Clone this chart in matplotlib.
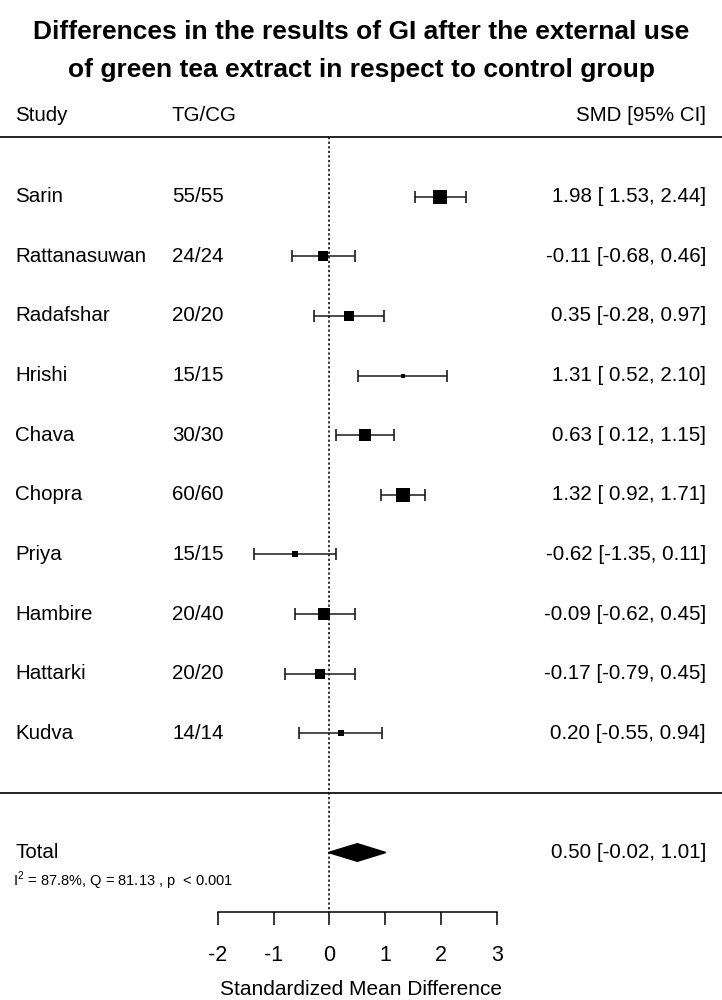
import matplotlib
matplotlib.use("Agg")
import matplotlib.pyplot as plt
import matplotlib.transforms as mtransforms
import numpy as np

plt.rcParams['font.family'] = ['Liberation Sans', 'DejaVu Sans']
plt.rcParams['mathtext.fontset'] = 'custom'
plt.rcParams['mathtext.rm'] = 'Liberation Sans'

# data
studies = ["Sarin", "Rattanasuwan", "Radafshar", "Hrishi", "Chava",
           "Chopra", "Priya", "Hambire", "Hattarki", "Kudva"]
groups = ["55/55", "24/24", "20/20", "15/15", "30/30",
          "60/60", "15/15", "20/40", "20/20", "14/14"]
smd = [1.98, -0.11, 0.35, 1.31, 0.63, 1.32, -0.62, -0.09, -0.17, 0.20]
ci_low = [1.53, -0.68, -0.28, 0.52, 0.12, 0.92, -1.35, -0.62, -0.79, -0.55]
ci_high = [2.44, 0.46, 0.97, 2.10, 1.15, 1.71, 0.11, 0.45, 0.45, 0.94]
weights = [14.0, 10.9, 9.9, 4.2, 12.5, 14.2, 6.2, 12.5, 9.4, 6.2]  # approx %

total_smd = 0.50
total_low = -0.02
total_high = 1.01
het_text = r"I$^{2}$ = 87.8%, Q = 81.13 , p  < 0.001"

xticks = [-2, -1, 0, 1, 2, 3]

fig = plt.figure(figsize=(7.22, 10), dpi=100)
ax = fig.add_axes([0, 0, 1, 1])
ax.set_xlim(-5.910, 7.040)
ax.set_ylim(13.474, -3.299)

rows = np.arange(len(studies))
total_row = len(studies) + 1

# fixed columns: x in figure fraction, y in row units
tr = mtransforms.blended_transform_factory(ax.transAxes, ax.transData)
fs = 14.8

ax.text(15 / 722, -1.37, "Study", transform=tr, ha="left", va="center", fontsize=fs)
ax.text(172 / 722, -1.37, "TG/CG", transform=tr, ha="left", va="center", fontsize=fs)
ax.text(706 / 722, -1.37, "SMD [95% CI]", transform=tr, ha="right", va="center", fontsize=fs)

ax.axhline(-1, color="black", lw=1.2)
ax.axhline(len(studies), color="black", lw=1.2)

ax.vlines(0, -1, 12, colors="black", linestyles=(0, (1.5, 1.5)), lw=1.1)

for i in rows:
    ax.text(15 / 722, i, studies[i], transform=tr, ha="left", va="center", fontsize=fs)
    ax.text(172 / 722, i, groups[i], transform=tr, ha="left", va="center", fontsize=fs)
    label = "%.2f [%5.2f, %.2f]" % (smd[i], ci_low[i], ci_high[i])
    ax.text(706 / 722, i, label, transform=tr, ha="right", va="center", fontsize=fs)

err = [np.array(smd) - np.array(ci_low), np.array(ci_high) - np.array(smd)]
ax.errorbar(smd, rows, xerr=err, fmt="none", ecolor="#1a1a1a", elinewidth=1.1,
            capsize=4.5, capthick=1.2, zorder=2)
for i in rows:
    ax.plot(smd[i], i, marker="s", color="black",
            markersize=max(weights[i] * 0.962, 4.5) * 0.72,
            markeredgewidth=0, zorder=3)

# summary diamond
h = 0.148
ax.fill([total_low, total_smd, total_high, total_smd],
        [total_row, total_row - h, total_row, total_row + h], color="black", zorder=3)
ax.text(15 / 722, total_row, "Total", transform=tr, ha="left", va="center", fontsize=fs)
ax.text(706 / 722, total_row,
        "%.2f [%.2f, %.2f]" % (total_smd, total_low, total_high),
        transform=tr, ha="right", va="center", fontsize=fs)
ax.text(13 / 722, total_row + 0.47, het_text, transform=tr, ha="left", va="center",
        fontsize=10.5)

# x axis
for s in ["top", "left", "right"]:
    ax.spines[s].set_visible(False)
ax.spines["bottom"].set_position(("data", 12))
ax.spines["bottom"].set_bounds(-2, 3)
ax.spines["bottom"].set_linewidth(1.1)
ax.set_xticks(xticks)
ax.set_xticklabels([str(t) for t in xticks])
ax.tick_params(axis="x", direction="out", length=9.4, width=1.1, pad=14, labelsize=15.5)
ax.set_yticks([])
ax.set_xlabel("Standardized Mean Difference", fontsize=15, labelpad=10)

fig.text(0.5, 1 - 32 / 1000, "Differences in the results of GI after the external use",
         ha="center", va="center", fontsize=19, fontweight="bold")
fig.text(0.5, 1 - 70 / 1000, "of green tea extract in respect to control group",
         ha="center", va="center", fontsize=19, fontweight="bold")

fig.savefig("out.png", dpi=100)
